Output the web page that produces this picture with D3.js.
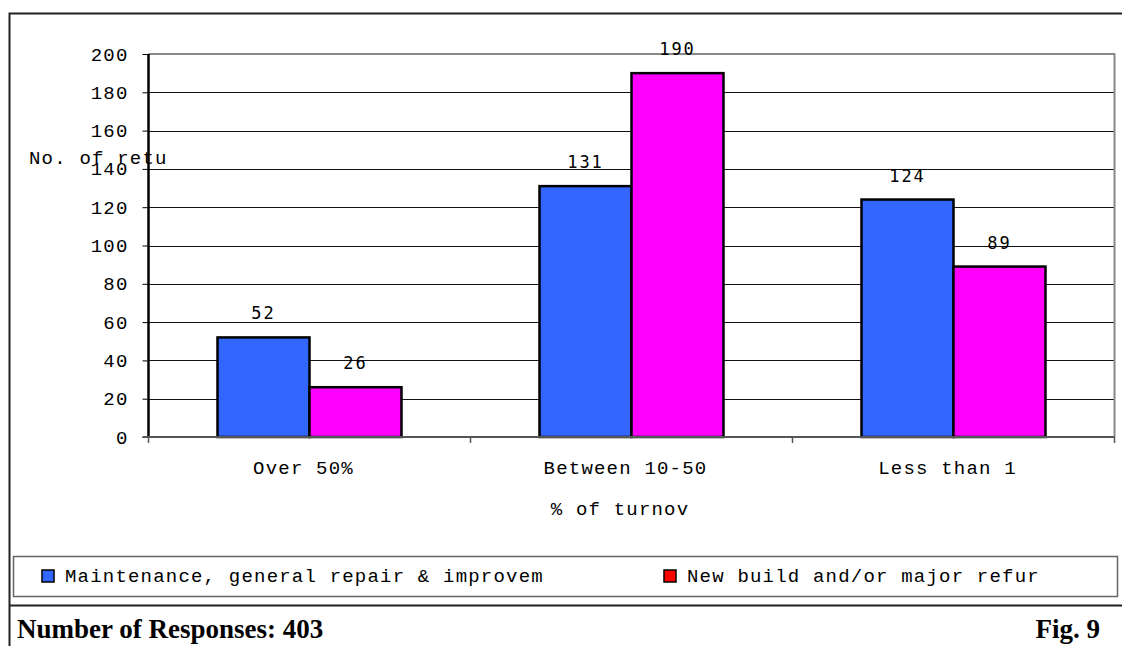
<!DOCTYPE html>
<html>
<head>
<meta charset="utf-8">
<script src="https://cdn.jsdelivr.net/npm/d3@7"></script>
<style>
  html, body { margin: 0; padding: 0; background: #fff; }
  svg { display: block; }
  .mono { font-family: "Liberation Mono", "Courier New", monospace; font-size: 19px; letter-spacing: 1.2px; fill: #000; }
  .val { font-family: "DejaVu Sans Mono", monospace; font-size: 17px; letter-spacing: 2px; fill: #000; }
</style>
</head>
<body>
<svg id="chart" width="1122" height="646"></svg>
<script>
// Turnover bands and returns per work type
const categories = ["Over 50%", "Between 10-50", "Less than 1"];
const seriesNames = ["Maintenance, general repair & improvem", "New build and/or major refur"];
const maintenance = [52, 131, 124];
const newBuild = [26, 190, 89];
const yTicks = [0, 20, 40, 60, 80, 100, 120, 140, 160, 180, 200];
const barColors = ["#3366FF", "#FF00FF"];
const legendColors = ["#3366FF", "#FF0000"];
const yTitle = "No. of retu";
const xTitle = "% of turnov";
const footLeft = "Number of Responses: 403";
const footRight = "Fig. 9";

const series = [maintenance, newBuild];
const svg = d3.select("#chart");

// plot area edges
const plotL = 148.5, plotR = 1114.5, plotT = 54, plotB = 437;

const y = d3.scaleLinear().domain([0, 200]).range([plotB, plotT]);
const x0 = d3.scaleBand().domain(categories).range([plotL, plotR]).paddingInner(0).paddingOuter(0);
const x1 = d3.scaleBand().domain(d3.range(series.length)).range([0, x0.bandwidth()])
  .paddingInner(0).paddingOuter(0.75);

// outer frame
svg.append("path")
  .attr("d", "M1122,13.5 H9.5 V646")
  .attr("fill", "none").attr("stroke", "#222").attr("stroke-width", 2);
svg.append("line")
  .attr("x1", 9).attr("x2", 1122).attr("y1", 605.5).attr("y2", 605.5)
  .attr("stroke", "#222").attr("stroke-width", 2);

// horizontal gridlines
svg.append("g").selectAll("line")
  .data(yTicks.filter(t => t > 0 && t < 200))
  .join("line")
  .attr("x1", plotL).attr("x2", plotR)
  .attr("y1", d => Math.round(y(d)) + 0.5).attr("y2", d => Math.round(y(d)) + 0.5)
  .attr("stroke", "#111").attr("stroke-width", 1);

// plot border (top and right)
svg.append("path")
  .attr("d", `M${plotL},${plotT} H${plotR} V${plotB}`)
  .attr("fill", "none").attr("stroke", "#888").attr("stroke-width", 2);

// bars
const groups = svg.append("g").selectAll("g")
  .data(categories)
  .join("g")
  .attr("transform", d => `translate(${x0(d)},0)`);

groups.selectAll("rect")
  .data((c, i) => series.map((s, k) => ({ k, v: s[i] })))
  .join("rect")
  .attr("x", d => x1(d.k))
  .attr("width", x1.bandwidth())
  .attr("y", d => y(d.v))
  .attr("height", d => y(0) - y(d.v))
  .attr("fill", d => barColors[d.k])
  .attr("stroke", "#000")
  .attr("stroke-width", 2.5);

// value labels
groups.selectAll("text")
  .data((c, i) => series.map((s, k) => ({ k, v: s[i] })))
  .join("text")
  .attr("class", "val")
  .attr("x", d => x1(d.k) + x1.bandwidth() / 2)
  .attr("y", d => y(d.v) - 18)
  .attr("text-anchor", "middle")
  .text(d => d.v);

// y axis
const yAxis = svg.append("g")
  .attr("transform", `translate(${plotL},0)`)
  .call(d3.axisLeft(y).tickValues(yTicks).tickSize(6).tickPadding(14));
yAxis.select(".domain").attr("stroke", "#000").attr("stroke-width", 2.5)
  .attr("d", `M0,${plotT}V${plotB}`);
yAxis.selectAll(".tick line").attr("stroke", "#000").attr("stroke-width", 1);
yAxis.selectAll(".tick text").attr("class", "mono");
yAxis.attr("font-family", null).attr("font-size", null);

// x axis line with ticks at band boundaries
const xAxis = svg.append("g");
xAxis.append("line")
  .attr("x1", plotL - 6).attr("x2", plotR)
  .attr("y1", plotB).attr("y2", plotB)
  .attr("stroke", "#555").attr("stroke-width", 2);
const bounds = categories.map(c => x0(c)).concat([x0(categories[categories.length - 1]) + x0.bandwidth()]);
xAxis.selectAll(".xt")
  .data(bounds)
  .join("line")
  .attr("class", "xt")
  .attr("x1", d => d).attr("x2", d => d)
  .attr("y1", plotB).attr("y2", plotB + 6)
  .attr("stroke", "#555").attr("stroke-width", 1.5);
xAxis.selectAll(".xl")
  .data(categories)
  .join("text")
  .attr("class", "mono xl")
  .attr("x", d => x0(d) + x0.bandwidth() / 2 - 6)
  .attr("y", 474)
  .attr("text-anchor", "middle")
  .text(d => d);

// axis titles
svg.append("text").attr("class", "mono")
  .attr("x", 29).attr("y", 164)
  .text(yTitle);
svg.append("text").attr("class", "mono")
  .attr("x", 620).attr("y", 515)
  .attr("text-anchor", "middle")
  .text(xTitle);

// legend
svg.append("rect")
  .attr("x", 13.5).attr("y", 556.5).attr("width", 1104).attr("height", 40)
  .attr("fill", "#fff").attr("stroke", "#666").attr("stroke-width", 1.5);
const legendX = [42, 664];
const legend = svg.append("g").selectAll("g")
  .data(seriesNames)
  .join("g")
  .attr("transform", (d, i) => `translate(${legendX[i]},570)`);
legend.append("rect")
  .attr("width", 12).attr("height", 12)
  .attr("fill", (d, i) => legendColors[i])
  .attr("stroke", "#000").attr("stroke-width", 1.5);
legend.append("text")
  .attr("class", "mono")
  .attr("x", 23).attr("y", 12)
  .text(d => d);

// footer
svg.append("text")
  .attr("x", 17).attr("y", 638)
  .attr("font-family", "'Liberation Serif', 'Times New Roman', serif")
  .attr("font-weight", "bold").attr("font-size", 27)
  .text(footLeft);
svg.append("text")
  .attr("x", 1100).attr("y", 638)
  .attr("text-anchor", "end")
  .attr("font-family", "'Liberation Serif', 'Times New Roman', serif")
  .attr("font-weight", "bold").attr("font-size", 27)
  .text(footRight);
</script>
</body>
</html>
